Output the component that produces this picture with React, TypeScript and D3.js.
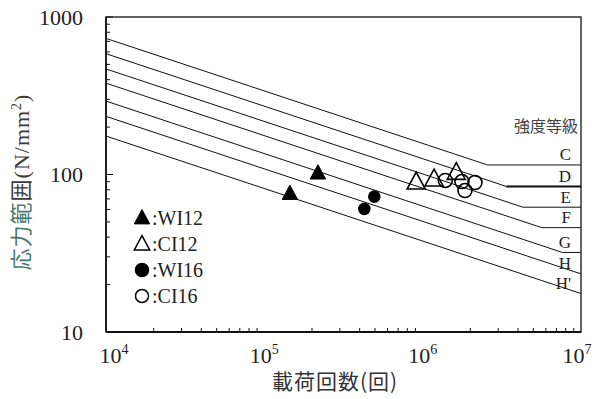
import * as d3 from "d3";

// S-N design curves (JSSC strength grades), stress range at 2e6 cycles and cutoff
const grades = ["C", "D", "E", "F", "G", "H", "H'"];
const strength2e6 = [125, 100, 80, 65, 50, 40, 30];
const cutoffs = [115, 84, 62, 46, 32, 23, 16];

// test results [cycles, stress range]
const wi12 = [[1.45e5, 75.7], [2.18e5, 102]];
const ci12 = [[9.1e5, 89.5], [1.18e6, 93.6], [1.63e6, 103]];
const wi16 = [[4.28e5, 60.5], [4.95e5, 72.4]];
const ci16 = [[1.39e6, 91.7], [1.77e6, 90.2], [1.85e6, 79.1], [2.14e6, 88.9]];

const xTicks = [1e4, 1e5, 1e6, 1e7];
const xTickExp = ["4", "5", "6", "7"];
const yTicks = [10, 100, 1000];

const legendItems = [
  { label: ":WI12", shape: "tri", fill: true },
  { label: ":CI12", shape: "tri", fill: false },
  { label: ":WI16", shape: "circ", fill: true },
  { label: ":CI16", shape: "circ", fill: false },
];

const W = 601;
const H = 399;
const left = 106, right = 581, top = 17, bottom = 332;
const serif = "'Liberation Serif', 'DejaVu Serif', serif";
const cjk = "'Noto Sans CJK JP', sans-serif";

export default function App() {
  const x = d3.scaleLog().domain([1e4, 1e7]).range([left, right]);
  const y = d3.scaleLog().domain([10, 1000]).range([bottom, top]);

  const line = d3.line<number[]>().x((d) => x(d[0])).y((d) => y(d[1]));

  const curves = grades.map((g, i) => {
    const s = strength2e6[i];
    const c = cutoffs[i];
    const nc = 2e6 * Math.pow(s / c, 3);
    const stress = (n: number) => s * Math.pow(2e6 / n, 1 / 3);
    const pts: number[][] = [[1e4, stress(1e4)]];
    if (nc < 1e7) {
      pts.push([nc, c]);
      pts.push([1e7, c]);
    } else {
      pts.push([1e7, stress(1e7)]);
    }
    return { g, pts, end: pts[pts.length - 1][1] };
  });

  // minor ticks
  const xMinor: number[] = [];
  for (let e = 4; e < 7; e++) for (let k = 2; k <= 9; k++) xMinor.push(k * Math.pow(10, e));
  const yMinor: number[] = [];
  for (let e = 1; e < 3; e++) for (let k = 2; k <= 9; k++) yMinor.push(k * Math.pow(10, e));

  const tri = (cx: number, cy: number, s: number) =>
    `M${cx},${cy - s * 0.6}L${cx + s * 0.55},${cy + s * 0.42}L${cx - s * 0.55},${cy + s * 0.42}Z`;

  return (
    <svg width={W} height={H} style={{ position: "absolute", left: 0, top: 0, background: "#fff" }}>
      <rect x={0} y={0} width={W} height={H} fill="#fff" />
      {/* curves */}
      {curves.map((c) => (
        <g key={c.g}>
          <path d={line(c.pts) || ""} fill="none" stroke="#111" strokeWidth={1} />
          {c.g === "D" && (
            <line x1={x(c.pts[1][0])} x2={right} y1={y(c.end)} y2={y(c.end)} stroke="#111" strokeWidth={2} />
          )}
          <text x={571} y={y(c.end) - 4.5} textAnchor="end" fontFamily={serif} fontSize={17} fill="#222">
            {c.g}
          </text>
        </g>
      ))}
      <text x={578} y={132} textAnchor="end" fontFamily={cjk} fontSize={16} fill="#444">
        強度等級
      </text>

      {/* axes frame */}
      <rect x={left} y={top} width={right - left} height={bottom - top} fill="none" stroke="#111" strokeWidth={1.3} />
      <line x1={left} x2={right} y1={bottom} y2={bottom} stroke="#111" strokeWidth={2} />
      <line x1={left} x2={left} y1={top} y2={bottom} stroke="#111" strokeWidth={1.6} />
      {xMinor.map((v) => (
        <line key={"xm" + v} x1={x(v)} x2={x(v)} y1={bottom} y2={bottom - 4} stroke="#111" strokeWidth={1} />
      ))}
      {yMinor.map((v) => (
        <line key={"ym" + v} x1={left} x2={left + 4} y1={y(v)} y2={y(v)} stroke="#111" strokeWidth={1} />
      ))}
      {yTicks.map((v) => (
        <g key={"yt" + v}>
          <line x1={left} x2={left + 7} y1={y(v)} y2={y(v)} stroke="#111" strokeWidth={1} />
          <text x={83} y={y(v) + 7.5} textAnchor="end" fontFamily={serif} fontSize={22} fill="#222">
            {v}
          </text>
        </g>
      ))}
      {xTicks.map((v, i) => (
        <text key={"xt" + v} x={x(v) + (i === 0 ? 8 : i === 3 ? -4 : 0)} y={363} textAnchor="middle" fontFamily={serif} fontSize={22} fill="#222">
          10
          <tspan dy={-9} fontSize={14}>
            {xTickExp[i]}
          </tspan>
        </text>
      ))}

      {/* data */}
      {wi12.map((d, i) => (
        <path key={"a" + i} d={tri(x(d[0]), y(d[1]), 14)} fill="#000" stroke="#000" />
      ))}
      {wi16.map((d, i) => (
        <circle key={"b" + i} cx={x(d[0])} cy={y(d[1])} r={6.3} fill="#000" />
      ))}
      {ci12.map((d, i) => (
        <path key={"c" + i} d={tri(x(d[0]), y(d[1]), 16.5)} fill="none" stroke="#000" strokeWidth={1.6} />
      ))}
      {ci16.map((d, i) => (
        <circle key={"d" + i} cx={x(d[0])} cy={y(d[1])} r={7} fill="none" stroke="#000" strokeWidth={1.6} />
      ))}

      {/* legend */}
      {legendItems.map((it, i) => {
        const cy = 218 + i * 26;
        return (
          <g key={it.label}>
            {it.shape === "tri" ? (
              <path d={tri(142, cy, 14)} fill={it.fill ? "#000" : "none"} stroke="#000" strokeWidth={it.fill ? 1 : 1.5} />
            ) : (
              <circle cx={142} cy={cy} r={6.5} fill={it.fill ? "#000" : "none"} stroke="#000" strokeWidth={1.5} />
            )}
            <text x={152} y={cy + 7} fontFamily={serif} fontSize={20} fill="#222">
              {it.label}
            </text>
          </g>
        );
      })}

      {/* axis titles */}
      <text x={335} y={389} textAnchor="middle" fontFamily={cjk} fontSize={21} letterSpacing={1} fill="#333">
        載荷回数(回)
      </text>
      <text transform="translate(29,182) rotate(-90)" textAnchor="middle" fontFamily={cjk} fontSize={22} letterSpacing={1} fill="#3a3a3a">
        <tspan fill="#4a7a6c">応力範</tspan>
        <tspan>囲</tspan>
        <tspan fontFamily={serif}>(N/mm</tspan>
        <tspan fontFamily={serif} dy={-8} fontSize={14}>2</tspan>
        <tspan fontFamily={serif} dy={8}>)</tspan>
      </text>
    </svg>
  );
}
